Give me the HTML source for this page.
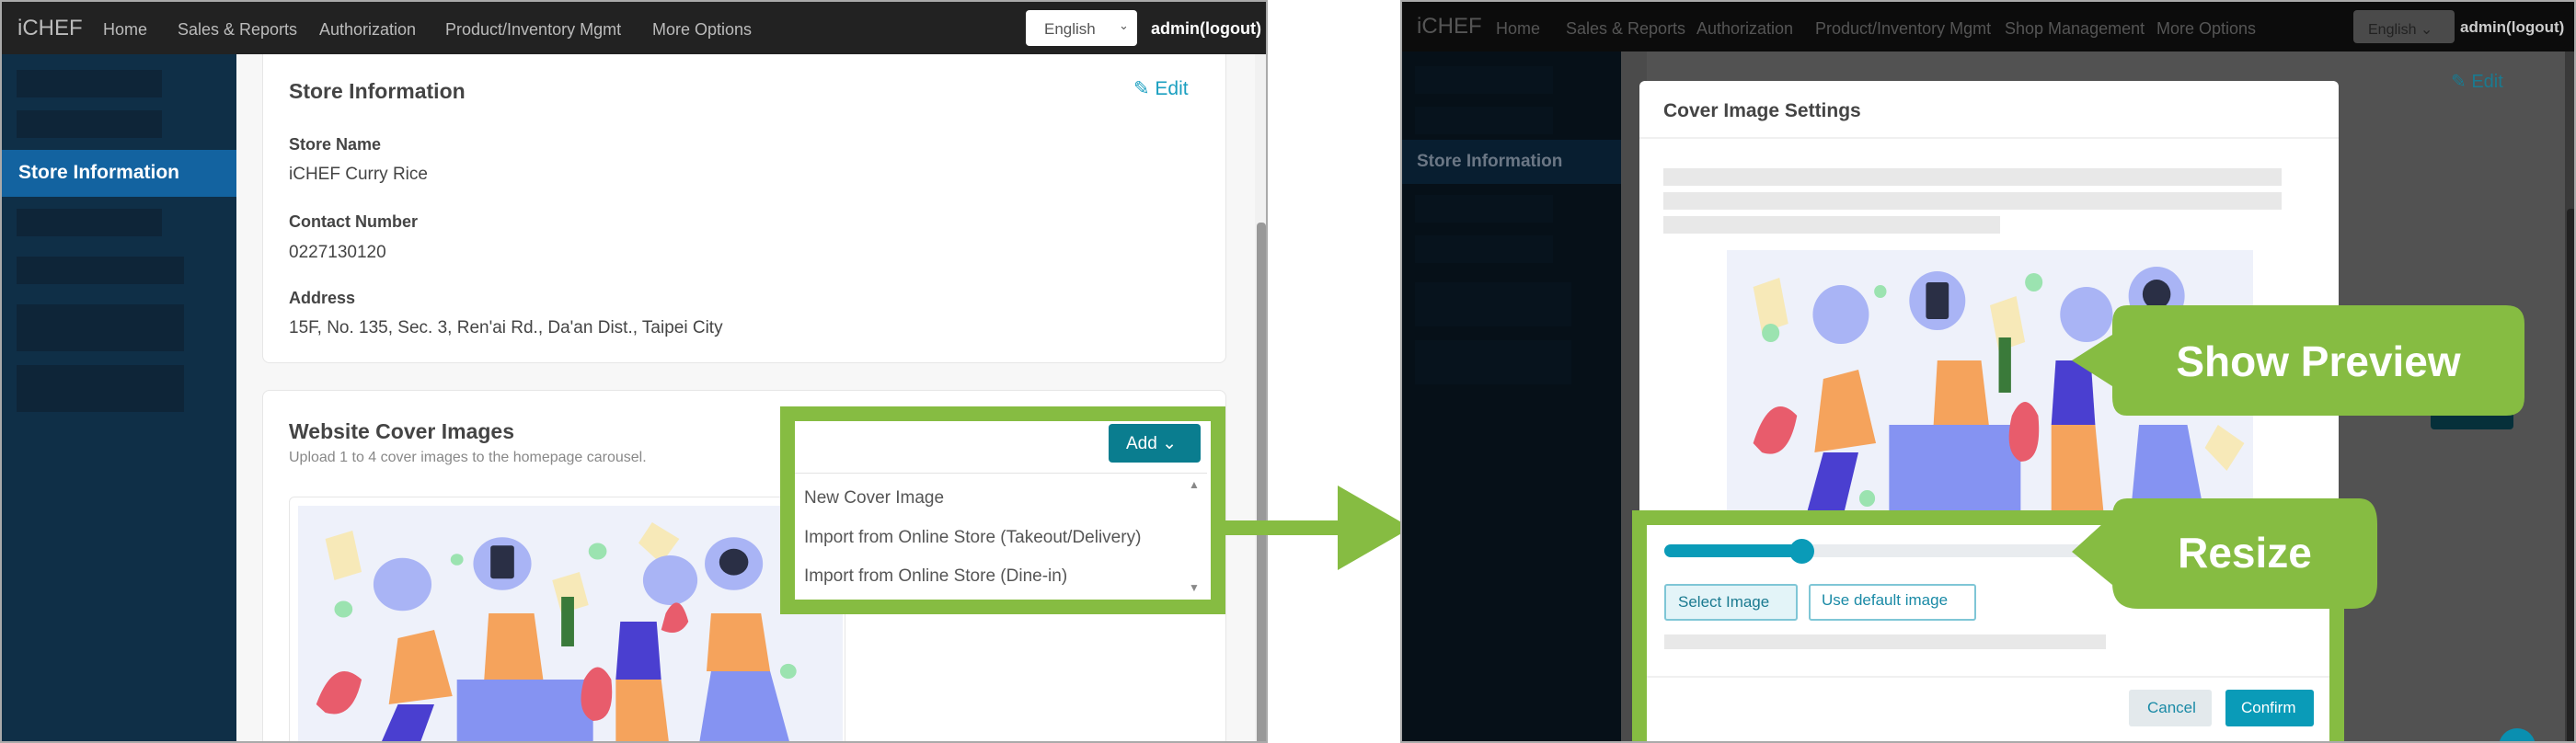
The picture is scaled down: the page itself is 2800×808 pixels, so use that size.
<!DOCTYPE html>
<html><head><meta charset="utf-8"><style>
*{margin:0;padding:0;box-sizing:border-box}
body{width:2800px;height:808px;position:relative;overflow:hidden;background:#fff;font-family:"Liberation Sans",sans-serif}
.a{position:absolute}
.t{position:absolute;white-space:nowrap}
.nav{color:#bbb;font-size:18px}
.lbl{color:#444;font-weight:bold;font-size:18px}
.val{color:#444;font-size:19px}
</style></head><body>

<!-- LEFT PANEL -->
<div class="a" style="left:0;top:0;width:1378px;height:808px;background:#f7f7f7;border:2px solid #aaa;overflow:hidden">
  <div class="a" style="left:0;top:0;width:1378px;height:57px;background:#222"></div>
  <div class="t" style="left:17px;top:15px;color:#bbb;font-size:24px">iCHEF</div>
  <div class="t nav" style="left:110px;top:20px">Home</div>
  <div class="t nav" style="left:191px;top:20px">Sales &amp; Reports</div>
  <div class="t nav" style="left:345px;top:20px">Authorization</div>
  <div class="t nav" style="left:482px;top:20px">Product/Inventory Mgmt</div>
  <div class="t nav" style="left:707px;top:20px">More Options</div>
  <div class="a" style="left:1113px;top:9px;width:121px;height:39px;background:#fff;border-radius:4px"></div>
  <div class="t" style="left:1133px;top:20px;color:#555;font-size:17px">English</div>
  <div class="t" style="left:1214px;top:18px;color:#555;font-size:13px">&#8964;</div>
  <div class="t" style="left:1249px;top:19px;color:#fff;font-size:18px;font-weight:bold">admin(logout)</div>

  <div class="a" style="left:0;top:57px;width:255px;height:760px;background:#0f2f47"></div>
  <div class="a" style="left:16px;top:74px;width:158px;height:30px;background:#0e2538"></div>
  <div class="a" style="left:16px;top:118px;width:158px;height:30px;background:#0e2538"></div>
  <div class="a" style="left:0;top:161px;width:255px;height:51px;background:#1363a0"></div>
  <div class="t" style="left:18px;top:174px;color:#fff;font-weight:bold;font-size:21px">Store Information</div>
  <div class="a" style="left:16px;top:225px;width:158px;height:30px;background:#0e2538"></div>
  <div class="a" style="left:16px;top:277px;width:182px;height:30px;background:#0e2538"></div>
  <div class="a" style="left:16px;top:329px;width:182px;height:51px;background:#0e2538"></div>
  <div class="a" style="left:16px;top:395px;width:182px;height:51px;background:#0e2538"></div>

  <div class="a" style="left:283px;top:57px;width:1048px;height:336px;background:#fff;border:1px solid #e6e6e6;border-top:none;border-radius:0 0 8px 8px"></div>
  <div class="t" style="left:312px;top:84px;color:#444;font-weight:bold;font-size:23px">Store Information</div>
  <div class="t" style="left:1230px;top:82px;color:#1a9fc0;font-size:21px">&#9998; Edit</div>
  <div class="t lbl" style="left:312px;top:145px">Store Name</div>
  <div class="t val" style="left:312px;top:177px">iCHEF Curry Rice</div>
  <div class="t lbl" style="left:312px;top:229px">Contact Number</div>
  <div class="t val" style="left:312px;top:262px">0227130120</div>
  <div class="t lbl" style="left:312px;top:312px">Address</div>
  <div class="t val" style="left:312px;top:344px">15F, No. 135, Sec. 3, Ren'ai Rd., Da'an Dist., Taipei City</div>

  <div class="a" style="left:283px;top:422px;width:1048px;height:400px;background:#fff;border:1px solid #e6e6e6;border-radius:8px"></div>
  <div class="t" style="left:312px;top:454px;color:#444;font-weight:bold;font-size:23px">Website Cover Images</div>
  <div class="t" style="left:312px;top:487px;color:#888;font-size:16px">Upload 1 to 4 cover images to the homepage carousel.</div>
  <div class="a" style="left:312px;top:538px;width:605px;height:290px;border:1px solid #e6e6e6;border-radius:6px;background:#fff"></div>
  <svg class="a" style="left:322px;top:548px" width="592" height="270" viewBox="0 0 600 300" preserveAspectRatio="none">
    <rect width="600" height="300" fill="#eef1fa"/>
    <polygon points="30,40 60,30 70,80 40,90" fill="#f7e9b8"/>
    <polygon points="390,20 420,40 400,70 375,45" fill="#f7e9b8"/>
    <polygon points="280,90 310,80 320,120 290,130" fill="#f7e9b8"/>
    <circle cx="50" cy="125" r="10" fill="#9be3b0"/><circle cx="175" cy="65" r="7" fill="#9be3b0"/><circle cx="330" cy="55" r="10" fill="#9be3b0"/><circle cx="540" cy="200" r="9" fill="#9be3b0"/>
    <circle cx="115" cy="95" r="32" fill="#a9b4f5"/><circle cx="225" cy="70" r="32" fill="#a9b4f5"/><circle cx="410" cy="90" r="30" fill="#a9b4f5"/><circle cx="480" cy="70" r="32" fill="#a9b4f5"/>
    <rect x="212" y="48" width="26" height="40" rx="3" fill="#2a2f45"/>
    <circle cx="480" cy="68" r="16" fill="#2a2f45"/>
    <path d="M20 240 Q40 180 70 210 Q60 260 30 250Z" fill="#e85c6c"/>
    <path d="M110 160 L150 150 L170 230 L100 240Z" fill="#f5a35c"/>
    <path d="M110 240 L90 290 L130 300 L150 240Z" fill="#4a3fd0"/>
    <path d="M210 130 L260 130 L270 210 L205 210Z" fill="#f5a35c"/>
    <rect x="175" y="210" width="150" height="90" fill="#8593f2"/>
    <path d="M315 210 Q330 180 345 210 Q350 260 325 260 Q305 250 315 210Z" fill="#e85c6c"/>
    <path d="M355 140 L395 140 L400 210 L350 210Z" fill="#4a3fd0"/>
    <path d="M350 210 L400 210 L410 300 L350 300Z" fill="#f5a35c"/>
    <path d="M455 130 L510 130 L520 200 L450 200Z" fill="#f5a35c"/>
    <path d="M455 200 L520 200 L545 300 L440 300Z" fill="#8593f2"/>
    <path d="M405 130 Q420 100 430 140 Q420 160 400 150Z" fill="#e85c6c"/>
    <rect x="290" y="110" width="14" height="60" fill="#3a7a3a"/>
  </svg>

  <div class="a" style="left:1362px;top:57px;width:14px;height:760px;background:#f1f1f1"></div>
  <div class="a" style="left:1364px;top:240px;width:10px;height:580px;background:#999;border-radius:4px"></div>

  <!-- green box left -->
  <div class="a" style="left:846px;top:440px;width:484px;height:226px;border:16px solid #86bc42;background:#fff"></div>
  <div class="a" style="left:1203px;top:459px;width:100px;height:42px;background:#0a7d8f;border-radius:4px"></div>
  <div class="t" style="left:1222px;top:469px;color:#fff;font-size:19px">Add &#8964;</div>
  <div class="a" style="left:862px;top:512px;width:448px;height:138px;border-top:1px solid #e3e3e3"></div>
  <div class="t" style="left:872px;top:529px;color:#555;font-size:19px">New Cover Image</div>
  <div class="t" style="left:872px;top:572px;color:#555;font-size:19px">Import from Online Store (Takeout/Delivery)</div>
  <div class="t" style="left:872px;top:614px;color:#555;font-size:19px">Import from Online Store (Dine-in)</div>
  <div class="t" style="left:1290px;top:518px;color:#888;font-size:12px">&#9650;</div>
  <div class="t" style="left:1290px;top:630px;color:#888;font-size:12px">&#9660;</div>
</div>

<!-- arrow -->
<div class="a" style="left:1330px;top:566px;width:130px;height:16px;background:#86bc42"></div>
<svg class="a" style="left:1450px;top:526px" width="90" height="96"><polygon points="4,2 84,48 4,94" fill="#86bc42"/></svg>

<!-- RIGHT PANEL -->
<div class="a" style="left:1522px;top:0;width:1278px;height:808px;background:#4b4b4b;border:2px solid #aaa;overflow:hidden">
  <div class="a" style="left:0;top:0;width:1278px;height:54px;background:#0c0c0c"></div>
  <div class="t" style="left:16px;top:13px;color:#555;font-size:24px">iCHEF</div>
  <div class="t nav" style="left:102px;top:19px;color:#555">Home</div>
  <div class="t nav" style="left:178px;top:19px;color:#555">Sales &amp; Reports</div>
  <div class="t nav" style="left:320px;top:19px;color:#555">Authorization</div>
  <div class="t nav" style="left:449px;top:19px;color:#555">Product/Inventory Mgmt</div>
  <div class="t nav" style="left:655px;top:19px;color:#555">Shop Management</div>
  <div class="t nav" style="left:820px;top:19px;color:#555">More Options</div>
  <div class="a" style="left:1034px;top:9px;width:110px;height:36px;background:#4a4a4a;border-radius:4px"></div>
  <div class="t" style="left:1050px;top:20px;color:#222;font-size:16px">English &#8964;</div>
  <div class="t" style="left:1150px;top:18px;color:#ccc;font-size:17px;font-weight:bold">admin(logout)</div>

  <div class="a" style="left:0;top:54px;width:238px;height:760px;background:#061018"></div>
  <div class="a" style="left:14px;top:70px;width:150px;height:30px;background:#07131d"></div>
  <div class="a" style="left:14px;top:114px;width:150px;height:30px;background:#07131d"></div>
  <div class="a" style="left:0;top:150px;width:238px;height:48px;background:#081e30"></div>
  <div class="t" style="left:16px;top:163px;color:#6b7785;font-weight:bold;font-size:19px">Store Information</div>
  <div class="a" style="left:14px;top:210px;width:150px;height:30px;background:#07131d"></div>
  <div class="a" style="left:14px;top:254px;width:150px;height:30px;background:#07131d"></div>
  <div class="a" style="left:14px;top:305px;width:170px;height:48px;background:#07131d"></div>
  <div class="a" style="left:14px;top:368px;width:170px;height:48px;background:#07131d"></div>
  <div class="a" style="left:266px;top:54px;width:1000px;height:760px;background:#525252"></div>
  <div class="t" style="left:1140px;top:74px;color:#1a7a90;font-size:20px">&#9998; Edit</div>
  <div class="a" style="left:1118px;top:420px;width:90px;height:45px;background:#06303a;border-radius:4px"></div>
  <div class="a" style="left:1264px;top:54px;width:14px;height:760px;background:#3a3a3a"></div>
  <div class="a" style="left:1266px;top:225px;width:10px;height:590px;background:#222;border-radius:4px"></div>
  <div class="a" style="left:1192px;top:790px;width:40px;height:40px;background:#0a8fb0;border-radius:50%"></div>

  <!-- modal -->
  <div class="a" style="left:258px;top:86px;width:760px;height:740px;background:#fff;border-radius:6px"></div>
  <div class="t" style="left:284px;top:107px;color:#444;font-weight:bold;font-size:21px">Cover Image Settings</div>
  <div class="a" style="left:258px;top:147px;width:760px;height:2px;background:#f0f0f0"></div>
  <div class="a" style="left:284px;top:181px;width:672px;height:19px;background:#e8e8e8"></div>
  <div class="a" style="left:284px;top:207px;width:672px;height:19px;background:#e8e8e8"></div>
  <div class="a" style="left:284px;top:233px;width:366px;height:19px;background:#e8e8e8"></div>
  <svg class="a" style="left:353px;top:270px" width="572" height="300" viewBox="0 0 600 300" preserveAspectRatio="none">
    <rect width="600" height="300" fill="#eef1fa"/>
    <polygon points="30,40 60,30 70,80 40,90" fill="#f7e9b8"/>
    <polygon points="560,190 590,210 570,240 545,215" fill="#f7e9b8"/>
    <polygon points="300,60 330,50 340,100 310,110" fill="#f7e9b8"/>
    <circle cx="50" cy="90" r="10" fill="#9be3b0"/><circle cx="175" cy="45" r="7" fill="#9be3b0"/><circle cx="350" cy="35" r="10" fill="#9be3b0"/><circle cx="160" cy="270" r="9" fill="#9be3b0"/>
    <circle cx="130" cy="70" r="32" fill="#a9b4f5"/><circle cx="240" cy="55" r="32" fill="#a9b4f5"/><circle cx="410" cy="70" r="30" fill="#a9b4f5"/><circle cx="490" cy="50" r="32" fill="#a9b4f5"/>
    <rect x="227" y="35" width="26" height="40" rx="3" fill="#2a2f45"/>
    <circle cx="490" cy="48" r="16" fill="#2a2f45"/>
    <path d="M30 210 Q50 150 80 180 Q70 230 40 220Z" fill="#e85c6c"/>
    <path d="M110 140 L150 130 L170 210 L100 220Z" fill="#f5a35c"/>
    <path d="M110 220 L90 290 L130 300 L150 220Z" fill="#4a3fd0"/>
    <path d="M240 120 L290 120 L300 200 L235 200Z" fill="#f5a35c"/>
    <rect x="185" y="190" width="150" height="100" fill="#8593f2"/>
    <path d="M325 180 Q340 150 355 180 Q360 230 335 230 Q315 220 325 180Z" fill="#e85c6c"/>
    <path d="M375 120 L415 120 L420 190 L370 190Z" fill="#4a3fd0"/>
    <path d="M370 190 L420 190 L430 290 L370 290Z" fill="#f5a35c"/>
    <path d="M470 190 L525 190 L545 290 L460 290Z" fill="#8593f2"/>
    <rect x="310" y="95" width="14" height="60" fill="#3a7a3a"/>
  </svg>

  <!-- green box right -->
  <div class="a" style="left:250px;top:553px;width:774px;height:270px;border:16px solid #86bc42;border-bottom:none;background:#fff"></div>
  <div class="a" style="left:285px;top:590px;width:540px;height:14px;background:#e9ecef;border-radius:7px"></div>
  <div class="a" style="left:285px;top:590px;width:150px;height:14px;background:#0a9bb8;border-radius:7px"></div>
  <div class="a" style="left:421px;top:584px;width:27px;height:27px;background:#0a9bb8;border-radius:50%"></div>
  <div class="a" style="left:285px;top:633px;width:145px;height:40px;background:#e3f4f8;border:2px solid #7fc6d6;border-radius:3px"></div>
  <div class="t" style="left:300px;top:643px;color:#1a7a90;font-size:17px">Select Image</div>
  <div class="a" style="left:442px;top:633px;width:182px;height:40px;background:#fff;border:2px solid #7fc6d6;border-radius:3px"></div>
  <div class="t" style="left:456px;top:641px;color:#1a8aa6;font-size:17px">Use default image</div>
  <div class="a" style="left:285px;top:688px;width:480px;height:16px;background:#e8e8e8"></div>
  <div class="a" style="left:266px;top:733px;width:742px;height:2px;background:#f0f0f0"></div>
  <div class="a" style="left:790px;top:748px;width:90px;height:40px;background:#e3e9ec;border-radius:3px"></div>
  <div class="t" style="left:810px;top:758px;color:#1a8aa6;font-size:17px">Cancel</div>
  <div class="a" style="left:895px;top:748px;width:96px;height:40px;background:#0a9bb8;border-radius:3px"></div>
  <div class="t" style="left:912px;top:758px;color:#fff;font-size:17px">Confirm</div>
</div>

<!-- callouts -->
<svg class="a" style="left:2240px;top:320px" width="520" height="360">
  <path d="M72 12 H484 Q504 12 504 32 V112 Q504 132 484 132 H72 Q56 132 56 112 V100 L12 72 L56 44 V32 Q56 12 72 12Z" fill="#86bc42"/>
  <path d="M72 222 H324 Q344 222 344 250 V314 Q344 342 316 342 H84 Q56 342 56 314 V316 L12 280 L56 240 V242 Q56 222 72 222Z" fill="#86bc42"/>
  <text x="280" y="89" text-anchor="middle" fill="#fff" font-family="Liberation Sans" font-weight="bold" font-size="46">Show Preview</text>
  <text x="200" y="297" text-anchor="middle" fill="#fff" font-family="Liberation Sans" font-weight="bold" font-size="46">Resize</text>
</svg>
</body></html>
